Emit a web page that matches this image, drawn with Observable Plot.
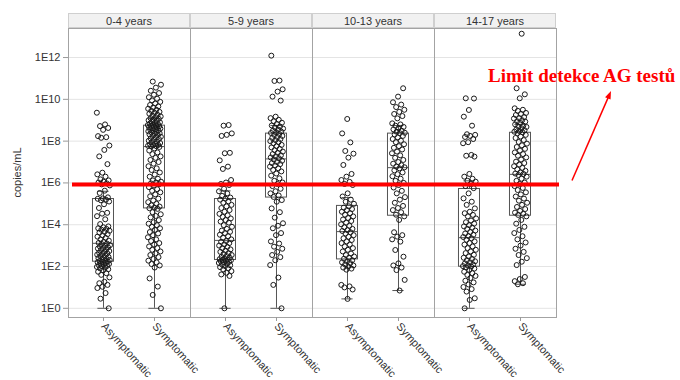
<!DOCTYPE html>
<html><head><meta charset="utf-8">
<script src="https://cdn.jsdelivr.net/npm/d3@7"></script>
<script src="https://cdn.jsdelivr.net/npm/@observablehq/plot@0.6"></script>
<style>
body{margin:0;background:#fff;}
#chart svg{display:block;}
</style></head><body><div id="chart"></div>
<script>
// ---- data (log10 copies/mL) ----
const ageGroups = ["0-4 years", "5-9 years", "10-13 years", "14-17 years"];
const statuses = ["Asymptomatic", "Symptomatic"];
const yTickExponents = [0, 2, 4, 6, 8, 10, 12];
const yTickLabels = ["1E0", "1E2", "1E4", "1E6", "1E8", "1E10", "1E12"];
const limitLog10 = 5.9;
const limitLabel = "Limit detekce AG testů";

const asym_0_4 = [9.36, 8.8, 8.72, 8.63, 8.54, 8.24, 8.19, 8.16, 7.79, 7.58, 7.27, 6.9, 6.49, 6.41, 6.3, 6.17, 6.12, 6.06, 6.02, 5.98, 5.93, 5.88, 5.63, 5.52, 5.31, 5.26, 5.24, 5.2, 5.17, 5.11, 4.98, 4.8, 4.57, 4.53, 4.41, 4.26, 4.03, 3.92, 3.88, 3.83, 3.8, 3.76, 3.71, 3.66, 3.62, 3.55, 3.49, 3.43, 3.37, 3.3, 3.24, 3.18, 3.13, 3.1, 3.07, 3.02, 2.99, 2.96, 2.92, 2.88, 2.86, 2.82, 2.79, 2.74, 2.71, 2.66, 2.63, 2.6, 2.57, 2.53, 2.5, 2.46, 2.43, 2.4, 2.37, 2.34, 2.31, 2.28, 2.26, 2.24, 2.22, 2.2, 2.17, 2.15, 2.12, 2.09, 2.06, 2.03, 2.01, 1.98, 1.95, 1.91, 1.87, 1.82, 1.75, 1.68, 1.6, 1.48, 1.27, 1.2, 1.12, 1.03, 0.97, 0.73, 0.46, 0];
const sym_0_4 = [10.85, 10.7, 10.56, 10.41, 10.3, 10.22, 10.1, 10.03, 9.95, 9.88, 9.8, 9.73, 9.66, 9.61, 9.55, 9.5, 9.45, 9.4, 9.36, 9.31, 9.26, 9.22, 9.18, 9.14, 9.1, 9.07, 9.03, 9.0, 8.97, 8.93, 8.9, 8.87, 8.84, 8.81, 8.79, 8.77, 8.75, 8.73, 8.71, 8.69, 8.66, 8.64, 8.62, 8.6, 8.57, 8.55, 8.52, 8.5, 8.47, 8.44, 8.42, 8.38, 8.35, 8.32, 8.29, 8.25, 8.21, 8.17, 8.13, 8.1, 8.06, 8.02, 7.98, 7.95, 7.91, 7.88, 7.85, 7.82, 7.8, 7.78, 7.76, 7.75, 7.72, 7.65, 7.55, 7.46, 7.38, 7.27, 7.2, 7.1, 7.0, 6.92, 6.8, 6.7, 6.62, 6.5, 6.4, 6.3, 6.2, 6.12, 6.06, 6.02, 5.98, 5.94, 5.88, 5.8, 5.7, 5.62, 5.55, 5.45, 5.36, 5.25, 5.16, 5.08, 5.0, 4.93, 4.87, 4.82, 4.79, 4.76, 4.6, 4.5, 4.42, 4.35, 4.22, 4.12, 4.05, 3.98, 3.9, 3.83, 3.75, 3.65, 3.58, 3.5, 3.4, 3.3, 3.22, 3.12, 3.05, 2.96, 2.88, 2.8, 2.72, 2.63, 2.55, 2.45, 2.36, 2.28, 2.2, 2.12, 2.05, 1.95, 1.43, 1.04, 0.64, 0];
const asym_5_9 = [8.77, 8.74, 8.37, 8.3, 8.25, 7.44, 7.42, 7.08, 6.78, 6.67, 6.14, 6.02, 5.95, 5.9, 5.72, 5.6, 5.5, 5.38, 5.3, 5.25, 5.2, 5.12, 5.05, 4.95, 4.88, 4.8, 4.7, 4.62, 4.52, 4.45, 4.38, 4.3, 4.22, 4.15, 4.1, 3.98, 3.9, 3.8, 3.72, 3.66, 3.6, 3.52, 3.45, 3.38, 3.3, 3.22, 3.18, 3.12, 3.06, 3.0, 2.94, 2.88, 2.82, 2.76, 2.7, 2.64, 2.6, 2.55, 2.5, 2.46, 2.42, 2.38, 2.35, 2.33, 2.32, 2.3, 2.28, 2.25, 2.22, 2.2, 2.17, 2.14, 2.1, 2.06, 2.02, 1.97, 1.92, 1.86, 1.78, 1.7, 1.62, 1.55, 0];
const sym_5_9 = [12.09, 10.9, 10.88, 10.48, 10.37, 10.13, 9.94, 9.17, 9.1, 9.02, 8.95, 8.88, 8.82, 8.75, 8.7, 8.65, 8.6, 8.55, 8.5, 8.46, 8.42, 8.39, 8.34, 8.3, 8.25, 8.2, 8.15, 8.1, 8.05, 8.0, 7.95, 7.9, 7.82, 7.76, 7.7, 7.63, 7.57, 7.5, 7.44, 7.38, 7.32, 7.27, 7.22, 7.18, 7.12, 7.06, 7.0, 6.95, 6.9, 6.84, 6.78, 6.7, 6.62, 6.55, 6.45, 6.35, 6.22, 6.1, 6.02, 5.95, 5.85, 5.72, 5.6, 5.5, 5.4, 5.33, 5.18, 5.1, 4.78, 4.6, 4.34, 4.07, 3.95, 3.83, 3.6, 3.5, 3.2, 3.1, 2.95, 2.85, 2.7, 2.55, 2.45, 2.3, 2.07, 1.47, 1.12, 0];
const asym_10_13 = [9.06, 8.37, 7.94, 7.53, 7.4, 7.21, 6.86, 6.43, 6.3, 6.14, 6.05, 5.95, 5.9, 5.5, 5.35, 5.2, 5.1, 5.0, 4.88, 4.82, 4.75, 4.7, 4.62, 4.55, 4.48, 4.4, 4.32, 4.25, 4.18, 4.1, 4.02, 3.95, 3.88, 3.8, 3.74, 3.7, 3.64, 3.58, 3.5, 3.42, 3.35, 3.27, 3.2, 3.12, 3.05, 2.96, 2.88, 2.8, 2.72, 2.62, 2.55, 2.48, 2.42, 2.37, 2.3, 2.25, 2.2, 2.16, 2.1, 2.05, 2.0, 1.95, 1.9, 1.85, 1.12, 1.05, 1.0, 0.9, 0.45];
const sym_10_13 = [10.53, 10.13, 9.86, 9.75, 9.63, 9.5, 9.4, 9.3, 9.2, 9.09, 8.85, 8.8, 8.74, 8.68, 8.62, 8.56, 8.5, 8.45, 8.4, 8.38, 8.32, 8.25, 8.18, 8.1, 8.02, 7.95, 7.85, 7.76, 7.68, 7.6, 7.5, 7.42, 7.32, 7.2, 7.1, 7.0, 6.92, 6.85, 6.78, 6.75, 6.7, 6.6, 6.5, 6.42, 6.32, 6.2, 6.1, 6.0, 5.9, 5.78, 5.62, 5.5, 5.32, 5.2, 5.05, 4.9, 4.8, 4.7, 4.6, 4.48, 4.4, 4.23, 3.64, 3.5, 3.43, 3.3, 3.19, 2.79, 2.47, 2.15, 2.05, 1.95, 1.83, 1.36, 0.85];
const asym_14_17 = [10.05, 10.04, 9.49, 9.17, 8.74, 8.33, 8.3, 8.25, 8.2, 8.1, 7.95, 7.9, 7.34, 7.3, 7.26, 6.43, 6.3, 6.2, 6.1, 6.06, 5.95, 5.85, 5.75, 5.5, 5.26, 5.1, 4.95, 4.78, 4.62, 4.55, 4.47, 4.4, 4.3, 4.2, 4.12, 4.05, 3.98, 3.92, 3.86, 3.8, 3.72, 3.65, 3.58, 3.52, 3.46, 3.41, 3.35, 3.28, 3.2, 3.12, 3.05, 2.96, 2.88, 2.8, 2.72, 2.64, 2.56, 2.48, 2.42, 2.36, 2.3, 2.25, 2.2, 2.15, 2.1, 2.05, 2.02, 2.0, 1.96, 1.9, 1.84, 1.75, 1.68, 1.6, 1.55, 1.45, 1.32, 1.24, 1.14, 1.02, 0.92, 0.8, 0.48, 0.4, 0];
const sym_14_17 = [13.14, 10.53, 10.24, 10.05, 9.57, 9.5, 9.45, 9.35, 9.3, 9.25, 9.15, 9.1, 9.08, 9.0, 8.95, 8.93, 8.87, 8.8, 8.74, 8.7, 8.68, 8.62, 8.56, 8.52, 8.48, 8.45, 8.42, 8.38, 8.3, 8.22, 8.15, 8.05, 7.96, 7.88, 7.8, 7.72, 7.63, 7.55, 7.46, 7.38, 7.3, 7.22, 7.12, 7.02, 6.95, 6.88, 6.8, 6.72, 6.65, 6.58, 6.5, 6.45, 6.43, 6.38, 6.3, 6.2, 6.1, 6.02, 5.95, 5.85, 5.76, 5.66, 5.55, 5.45, 5.35, 5.25, 5.15, 5.05, 4.95, 4.85, 4.75, 4.66, 4.58, 4.52, 4.47, 4.4, 4.23, 4.05, 3.9, 3.75, 3.6, 3.45, 3.3, 3.15, 3.0, 2.85, 2.7, 2.55, 2.4, 2.23, 2.07, 1.5, 1.4, 1.3, 1.2, 1.15];

// box summaries, order: [0-4 A, 0-4 S, 5-9 A, 5-9 S, 10-13 A, 10-13 S, 14-17 A, 14-17 S] (log10)
const whiskerLow = [0, 0, 0, 0, 0.45, 0.85, 0, 1.15];
const boxQ1      = [2.23, 4.78, 2.31, 5.3, 2.34, 4.43, 1.99, 4.43];
const boxMedian  = [3.11, 7.74, 3.25, 7.15, 3.67, 6.73, 3.38, 6.41];
const boxQ3      = [5.23, 8.74, 5.23, 8.36, 4.9, 8.36, 5.71, 8.4];
const whiskerHigh= [5.6, 9.1, 5.62, 8.75, 5.3, 8.75, 6.1, 8.8];

// ---- tables for Plot ----
const groupSeries = [asym_0_4, sym_0_4, asym_5_9, sym_5_9, asym_10_13, sym_10_13, asym_14_17, sym_14_17];
const points = [];
groupSeries.forEach((arr, g) => {
  const age = ageGroups[Math.floor(g / 2)], si = g % 2;
  arr.forEach((v, i) => {
    const jitter = (((i * 0.6180339887 + g * 0.37) % 1) - 0.5) * 0.26; // horizontal jitter (layout only)
    points.push({age, status: statuses[si], si, jitter, value: Math.pow(10, v)});
  });
});
const boxes = groupSeries.map((_, g) => ({
  age: ageGroups[Math.floor(g / 2)], si: g % 2,
  lo: Math.pow(10, whiskerLow[g]), q1: Math.pow(10, boxQ1[g]), med: Math.pow(10, boxMedian[g]),
  q3: Math.pow(10, boxQ3[g]), hi: Math.pow(10, whiskerHigh[g])
}));
const yTickValues = yTickExponents.map(e => Math.pow(10, e));
const halfBox = 0.206, halfCap = 0.11;
const boxColor = "#555";

const plot = Plot.plot({
  width: 680, height: 380,
  marginLeft: 68, marginRight: 124, marginTop: 28, marginBottom: 63,
  style: {fontFamily: "Arial, 'Liberation Sans', sans-serif", fontSize: "11px", color: "#333", background: "#fff", overflow: "visible"},
  fx: {domain: ageGroups, padding: 0, axis: null, label: null},
  x: {domain: [-0.686, 1.706], label: null},
  y: {type: "log", domain: [Math.pow(10, -0.44), Math.pow(10, 13.39)], label: null},
  marks: [
    Plot.gridY(yTickValues, {stroke: "#e4e4e4", strokeOpacity: 1, strokeWidth: 1}),
    Plot.frame({stroke: "#a3a3a3", strokeWidth: 1}),
    Plot.axisY(yTickValues, {
      tickFormat: d => yTickLabels[yTickExponents.indexOf(Math.round(Math.log10(d)))],
      tickSize: 5, tickPadding: 3, stroke: "#999", label: null, fill: "#333"
    }),
    Plot.axisX([0, 1], {
      tickFormat: i => statuses[i], tickRotate: 48, tickSize: 4, tickPadding: 3,
      stroke: "#999", label: null, fill: "#333"
    }),
    Plot.ruleX(boxes, {fx: "age", x: "si", y1: "lo", y2: "q1", stroke: boxColor}),
    Plot.ruleX(boxes, {fx: "age", x: "si", y1: "q3", y2: "hi", stroke: boxColor}),
    Plot.ruleY(boxes, {fx: "age", y: "lo", x1: d => d.si - halfCap, x2: d => d.si + halfCap, stroke: boxColor}),
    Plot.ruleY(boxes, {fx: "age", y: "hi", x1: d => d.si - halfCap, x2: d => d.si + halfCap, stroke: boxColor}),
    Plot.rect(boxes, {fx: "age", x1: d => d.si - halfBox, x2: d => d.si + halfBox, y1: "q1", y2: "q3", fill: "none", stroke: boxColor}),
    Plot.ruleY(boxes, {fx: "age", y: "med", x1: d => d.si - halfBox, x2: d => d.si + halfBox, stroke: boxColor}),
    Plot.dot(points, {fx: "age", x: d => d.si + d.jitter, y: "value", r: 2.5, stroke: "#1a1a1a", strokeWidth: 1, fill: "none"})
  ]
});

document.getElementById("chart").appendChild(plot);

// ---- decorations using Plot's scales ----
const svg = d3.select(plot.tagName.toLowerCase() === "svg" ? plot : plot.querySelector("svg"));
const fxS = plot.scale("fx"), yS = plot.scale("y");
const bw = fxS.bandwidth;
const headerTop = 13, headerBottom = 28;
const hdr = svg.append("g");
ageGroups.forEach(a => {
  const x0 = fxS.apply(a);
  hdr.append("rect").attr("x", x0 + 0.5).attr("y", headerTop + 0.5).attr("width", bw - 1).attr("height", headerBottom - headerTop - 1)
    .attr("fill", "#f1f1f1").attr("stroke", "#cfcfcf");
  hdr.append("text").attr("x", x0 + bw / 2).attr("y", (headerTop + headerBottom) / 2 + 4)
    .attr("text-anchor", "middle").attr("fill", "#333").attr("font-size", 11).text(a);
});
// y-axis title
svg.append("text").attr("transform", `translate(21,${(28 + 317) / 2}) rotate(-90)`)
  .attr("text-anchor", "middle").attr("fill", "#333").attr("font-size", 11).text("copies/mL");
// red detection-limit line
const yLim = yS.apply(Math.pow(10, limitLog10));
const xStart = fxS.apply(ageGroups[0]) + 4;
const xEnd = fxS.apply(ageGroups[ageGroups.length - 1]) + bw + 3;
svg.append("line").attr("x1", xStart).attr("x2", xEnd).attr("y1", yLim).attr("y2", yLim)
  .attr("stroke", "#ff0000").attr("stroke-width", 4);
// arrow
const ax1 = 572, ay1 = yLim - 4, ax2 = 611, ay2 = 91;
const ang = Math.atan2(ay2 - ay1, ax2 - ax1);
svg.append("line").attr("x1", ax1).attr("y1", ay1).attr("x2", ax2 - 5 * Math.cos(ang)).attr("y2", ay2 - 5 * Math.sin(ang))
  .attr("stroke", "#ff0000").attr("stroke-width", 1.5);
const hl = 8, hw = 3;
const bx = ax2 - hl * Math.cos(ang), by = ay2 - hl * Math.sin(ang);
svg.append("polygon").attr("points", [
  [ax2, ay2],
  [bx + hw * Math.sin(ang), by - hw * Math.cos(ang)],
  [bx - hw * Math.sin(ang), by + hw * Math.cos(ang)]
].map(p => p.join(",")).join(" ")).attr("fill", "#ff0000");
// label
svg.append("text").attr("x", 488).attr("y", 82).attr("text-anchor", "start")
  .attr("font-family", "'Liberation Serif', 'Times New Roman', serif").attr("font-weight", "bold")
  .attr("font-size", 19).attr("fill", "#ff0000").text(limitLabel);
</script>
</body></html>
